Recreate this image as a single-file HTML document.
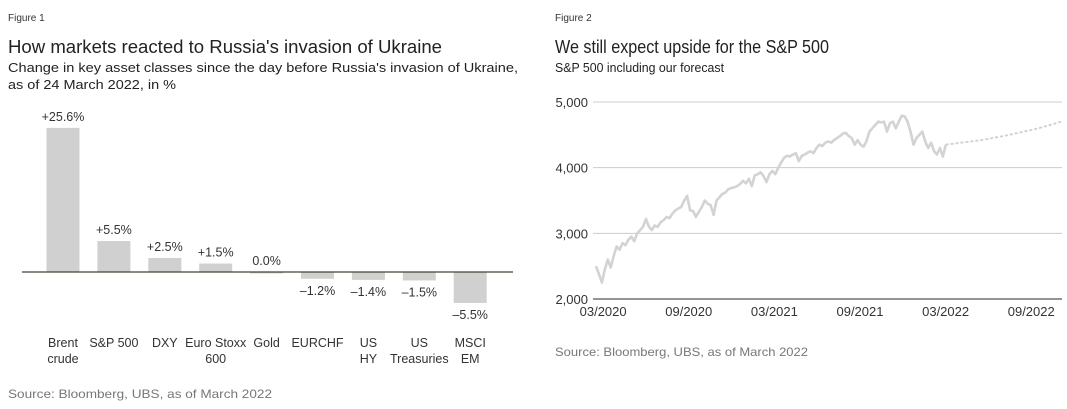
<!DOCTYPE html>
<html><head><meta charset="utf-8"><style>
body{margin:0;width:1067px;height:409px;background:#fff;overflow:hidden;font-family:"Liberation Sans",sans-serif;color:#222}
svg{position:absolute;left:0;top:0}
text{font-family:"Liberation Sans",sans-serif}
</style></head><body>
<svg width="1067" height="409">
<text x="8" y="21" font-size="10" fill="#333">Figure 1</text>
<text x="8" y="53" font-size="18" fill="#222" textLength="434" lengthAdjust="spacingAndGlyphs">How markets reacted to Russia's invasion of Ukraine</text>
<text x="8" y="72" font-size="13" fill="#222" textLength="510" lengthAdjust="spacingAndGlyphs">Change in key asset classes since the day before Russia's invasion of Ukraine,</text>
<text x="8" y="89" font-size="13" fill="#222" textLength="168" lengthAdjust="spacingAndGlyphs">as of 24 March 2022, in %</text>
<text x="8" y="398" font-size="12" fill="#777" textLength="264" lengthAdjust="spacingAndGlyphs">Source: Bloomberg, UBS, as of March 2022</text>
<text x="555" y="21" font-size="10" fill="#333">Figure 2</text>
<text x="555" y="53" font-size="18" fill="#222" textLength="274" lengthAdjust="spacingAndGlyphs">We still expect upside for the S&amp;P 500</text>
<text x="555" y="72" font-size="13" fill="#222" textLength="169" lengthAdjust="spacingAndGlyphs">S&amp;P 500 including our forecast</text>
<text x="555" y="356" font-size="12" fill="#777" textLength="253" lengthAdjust="spacingAndGlyphs">Source: Bloomberg, UBS, as of March 2022</text>
<g id="bars"></g>
<g id="line"></g>
</svg>
<script>
const NS="http://www.w3.org/2000/svg";
function mk(p,t,a,txt){const e=document.createElementNS(NS,t);for(const k in a)e.setAttribute(k,a[k]);if(txt!=null)e.textContent=txt;p.appendChild(e);return e;}

// Chart 1 data
const categories=[["Brent","crude"],["S&P 500"],["DXY"],["Euro Stoxx","600"],["Gold"],["EURCHF"],["US","HY"],["US","Treasuries"],["MSCI","EM"]];
const values=[25.6,5.5,2.5,1.5,0.0,-1.2,-1.4,-1.5,-5.5];
const valueLabels=["+25.6%","+5.5%","+2.5%","+1.5%","0.0%","\u20131.2%","\u20131.4%","\u20131.5%","\u20135.5%"];

const bg=document.getElementById('bars');
const base=272, pxPer=5.63;
const yB=v=>base-v*pxPer;
const xB=i=>63+i*50.9;
values.forEach((v,i)=>{
  const y0=Math.min(yB(v),base), h=Math.max(Math.abs(v*pxPer),1.5);
  const r=mk(bg,'rect',{x:xB(i)-16.5,y:v<0?base:y0,width:33,height:h,fill:'#d0d0d0'});
  
  
  const ly=v>=0?yB(v)-7:yB(v)+16;
  const t=mk(bg,'text',{x:xB(i),y:ly,'font-size':12.5,'text-anchor':'middle',fill:'#333'},valueLabels[i]);
  
  
  categories[i].forEach((s,j)=>{
    const c=mk(bg,'text',{x:xB(i),y:347+j*16,'font-size':12.5,'text-anchor':'middle',fill:'#333'},s);
    
    
  });
});
const ax=mk(bg,'line',{x1:22,x2:513,y1:base,y2:base,stroke:'#4a4038','stroke-width':1.2});



// Chart 2 data (quarter-month steps from Mar 2020)
const spx=[2500,2380,2250,2450,2600,2480,2650,2800,2750,2850,2820,2900,2950,2880,3000,3050,3100,3220,3100,3050,3120,3100,3170,3200,3250,3230,3300,3350,3380,3400,3500,3570,3350,3340,3250,3330,3400,3500,3450,3430,3280,3500,3550,3600,3620,3670,3690,3700,3720,3750,3800,3760,3830,3720,3880,3900,3930,3870,3780,3900,3950,3900,4000,4080,4150,4180,4170,4200,4220,4100,4180,4200,4230,4250,4220,4300,4350,4330,4380,4400,4380,4420,4450,4480,4520,4530,4480,4450,4350,4420,4350,4320,4400,4550,4600,4650,4700,4690,4700,4550,4680,4700,4600,4700,4790,4780,4700,4550,4350,4450,4500,4550,4400,4300,4380,4250,4200,4300,4170,4350];
const spxStep=0.206;
const fcMonths=[24.5,27,29,31,32.6];
const fcValues=[4350,4420,4500,4600,4700];
const yTicks=[2000,3000,4000,5000];
const xTickLabels=["03/2020","09/2020","03/2021","09/2021","03/2022","09/2022"];
const xTickMonths=[0.5,6.5,12.5,18.5,24.5,30.5];

const lg=document.getElementById('line');
const xL=m=>596+m*14.27;
const yL=v=>299-(v-2000)/3000*197;
yTicks.forEach(v=>{
  const g=mk(lg,'line',{x1:593,x2:1062,y1:yL(v),y2:yL(v),stroke:v==2000?'#555':'#ccc','stroke-width':v==2000?1.2:1});
  
  
  const t=mk(lg,'text',{x:588,y:yL(v)+5,'font-size':13,'text-anchor':'end',fill:'#333'},v.toLocaleString('en-US'));
  
  
});
xTickLabels.forEach((s,i)=>{
  const t=mk(lg,'text',{x:xL(xTickMonths[i]),y:316,'font-size':13,'text-anchor':'middle',fill:'#333'},s);
  
  
});
const pts=spx.map((v,i)=>xL(i*spxStep).toFixed(1)+','+yL(v).toFixed(1)).join(' ');
const pl=mk(lg,'polyline',{points:pts,fill:'none',stroke:'#d3d3d3','stroke-width':2.6,'stroke-linejoin':'round'});


const fp=fcMonths.map((m,i)=>xL(m).toFixed(1)+','+yL(fcValues[i]).toFixed(1)).join(' ');
const fl=mk(lg,'polyline',{points:fp,fill:'none',stroke:'#cfcfcf','stroke-width':1.8,'stroke-dasharray':'3,2'});


</script>
</body></html>
